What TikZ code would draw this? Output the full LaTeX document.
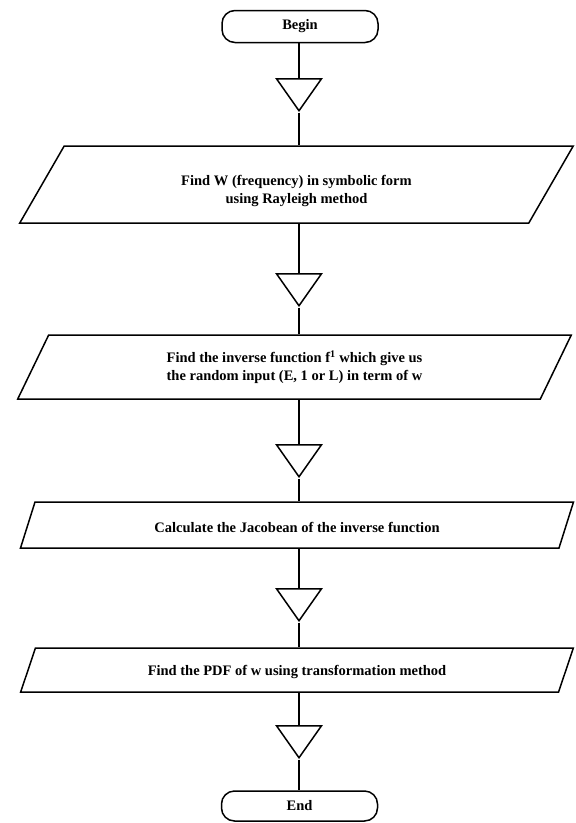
\documentclass[tikz,border=0pt]{standalone}
\usepackage{fontspec}
\setmainfont{Liberation Serif}
\usetikzlibrary{shapes.geometric}
\usetikzlibrary{positioning}

\tikzset{
  terminal/.style={draw, line width=1.5pt, rounded corners=13pt, minimum width=156pt, minimum height=32pt, inner sep=0pt},
  iobox/.style={draw, line width=1.5pt, trapezium, trapezium left angle=64, trapezium right angle=116,
    trapezium stretches=true, minimum width=555pt, align=center, inner sep=0pt},
  merge/.style={draw, line width=1.5pt, isosceles triangle, isosceles triangle stretches, shape border rotate=270,
    minimum width=45pt, minimum height=32pt, inner sep=0pt, anchor=north},
  link/.style={line width=1.5pt}
}

\begin{document}
\begin{tikzpicture}[x=1pt, y=1pt, font=\fontsize{14.5}{18}\selectfont\bfseries]
   \useasboundingbox (0,0) rectangle (576,-823);
   \node[terminal] (begin) at (300,-26.5) {Begin};
   \node[merge] (m1) at (299,-78) {};
   \node[iobox, minimum height=77pt] (wfreq) at (296.5,-184.5) {\rule{0pt}{24pt}Find W (frequency) in symbolic form\\using Rayleigh method};
   \node[merge] (m2) at (299,-273) {};
   \node[iobox, minimum height=64pt] (inverse) at (294.5,-367) {Find the inverse function f\textsuperscript{1} which give us\\the random input (E, 1 or L) in term of w};
   \node[merge] (m3) at (299,-444) {};
   \node[iobox, minimum height=46pt] (jacob) at (297,-525) {\rule{0pt}{16pt}Calculate the Jacobean of the inverse function};
   \node[merge] (m4) at (299,-588) {};
   \node[iobox, minimum height=44pt] (pdf) at (297,-670) {\rule{0pt}{14pt}Find the PDF of w using transformation method};
   \node[merge] (m5) at (299,-725) {};
   \node[terminal, minimum height=30pt] (end) at (299.5,-806) {End};

   \draw[link] (begin.south -| m1.north) -- (m1.north);
   \draw[link] (m1.south) -- (m1.south |- wfreq.north);
   \draw[link] (m1.south |- wfreq.south) -- (m2.north);
   \draw[link] (m2.south) -- (m2.south |- inverse.north);
   \draw[link] (m2.south |- inverse.south) -- (m3.north);
   \draw[link] (m3.south) -- (m3.south |- jacob.north);
   \draw[link] (m3.south |- jacob.south) -- (m4.north);
   \draw[link] (m4.south) -- (m4.south |- pdf.north);
   \draw[link] (m4.south |- pdf.south) -- (m5.north);
   \draw[link] (m5.south) -- (m5.south |- end.north);
\end{tikzpicture}
\end{document}
